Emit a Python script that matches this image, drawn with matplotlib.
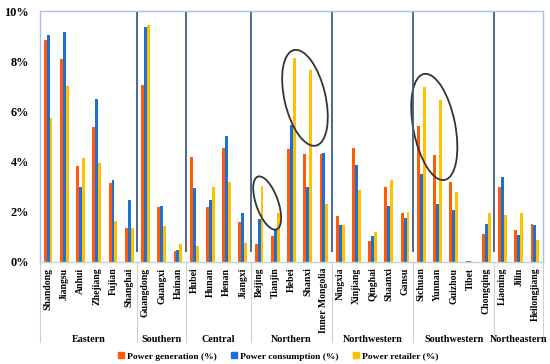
import matplotlib.pyplot as plt
import matplotlib.transforms as mtransforms
from matplotlib.patches import Ellipse
from matplotlib.lines import Line2D
import numpy as np

plt.rcParams['font.family'] = ['Liberation Serif', 'DejaVu Serif']
plt.rcParams['font.weight'] = 'bold'

provinces = ["Shandong", "Jiangsu", "Anhui", "Zhejiang", "Fujian", "Shanghai",
             "Guangdong", "Guangxi", "Hainan",
             "Hubei", "Hunan", "Henan", "Jiangxi",
             "Beijing", "Tianjin", "Hebei", "Shanxi", "Inner Mongolia",
             "Ningxia", "Xinjiang", "Qinghai", "Shaanxi", "Gansu",
             "Sichuan", "Yunnan", "Guizhou", "Tibet", "Chongqing",
             "Liaoning", "Jilin", "Heilongjiang"]
regions = ["Eastern", "Southern", "Central", "Northern", "Northwestern", "Southwestern", "Northeastern"]
region_sizes = [6, 3, 4, 5, 5, 5, 3]

generation = [8.85, 8.08, 3.82, 5.36, 3.13, 1.37,
              7.06, 2.19, 0.44,
              4.19, 2.20, 4.54, 1.59,
              0.73, 1.03, 4.52, 4.32, 4.32,
              1.83, 4.55, 0.82, 3.00, 1.94,
              5.42, 4.27, 3.17, 0.05, 1.13,
              2.98, 1.26, 1.53]
consumption = [9.03, 9.15, 2.98, 6.49, 3.28, 2.48,
               9.38, 2.25, 0.46,
               2.93, 2.49, 5.01, 1.96,
               1.70, 1.31, 5.46, 2.98, 4.35,
               1.46, 3.87, 1.03, 2.25, 1.76,
               3.50, 2.33, 2.06, 0.05, 1.53,
               3.40, 1.09, 1.47]
retailer = [5.74, 7.03, 4.16, 3.95, 1.64, 1.37,
            9.44, 1.45, 0.72,
            0.62, 2.97, 3.17, 0.76,
            3.04, 1.95, 8.14, 7.64, 2.32,
            1.49, 2.86, 1.21, 3.25, 1.99,
            6.98, 6.47, 2.77, 0.0, 1.95,
            1.88, 1.95, 0.86]

# highlighted pairs: (x centre, y centre, width px, height px, angle)
highlights = [(13.5, 2.35, 22, 56, 19.5),
              (15.83, 6.54, 41, 98, 13),
              (23.8, 5.38, 42, 108, 11)]

c_gen = "#FF5A0A"
c_con = "#1C6FD4"
c_ret = "#FFC000"
frame = "#A9C0E0"

fig = plt.figure(figsize=(5.5, 3.64), dpi=100)
ax = fig.add_axes([40 / 550, 1 - 262 / 364, 503 / 550, 251 / 364])

x = np.arange(len(provinces))
w = 0.18
ax.bar(x - w, generation, w, color=c_gen)
ax.bar(x, consumption, w, color=c_con)
ax.bar(x + w, retailer, w, color=c_ret)

ax.set_xlim(-0.5, len(provinces) - 0.5)
ax.set_ylim(0, 10)
ax.set_yticks(range(0, 11, 2))
ax.set_yticklabels([str(v) + "%" for v in range(0, 11, 2)], fontsize=8.8, fontweight='bold')
ax.set_xticks(x)
ax.set_xticklabels(provinces, rotation=90, fontsize=7, fontweight='bold')
ax.tick_params(axis='both', length=0)
ax.tick_params(axis='x', pad=4)
ax.tick_params(axis='y', pad=8)
for s in ax.spines.values():
    s.set_color(frame)
    s.set_linewidth(1.0)
ax.spines['bottom'].set_color("#C8CDD6")

# region separators and labels
trans = mtransforms.blended_transform_factory(ax.transData, ax.transAxes)
bounds = np.cumsum([0] + region_sizes) - 0.5
for b in bounds:
    ax.plot([b, b], [0, -0.32], transform=trans, color="#D0D0D0", lw=0.8, clip_on=False)
for b in bounds[1:-1]:
    ax.vlines(b, 0.4, 9.95, color="#3F5B82", lw=1.3)
for i, r in enumerate(regions):
    mid = (bounds[i] + bounds[i + 1]) / 2
    ax.text(mid, -0.307, r, transform=trans, ha='center', va='center', fontsize=7.3, fontweight='bold')

# ellipses around highlighted bars
for cx, cy, ew, eh, ang in highlights:
    px, py = ax.transData.transform((cx, cy))
    ax.add_patch(Ellipse((px, py), ew, eh, angle=ang, transform=mtransforms.IdentityTransform(),
                         fill=False, edgecolor="#333333", lw=1.3, clip_on=False))

handles = [Line2D([], [], marker='s', ls='', color=c, markersize=4.5) for c in (c_gen, c_con, c_ret)]
fig.legend(handles, ["Power generation (%)", "Power consumption (%)", "Power retailer (%)"],
           loc='center', bbox_to_anchor=(0.505, 0.021), ncol=3, frameon=False,
           prop={'size': 6.8, 'weight': 'bold'}, handletextpad=0.2, columnspacing=1.5, handlelength=0.8)

fig.savefig("out.png", dpi=100)
